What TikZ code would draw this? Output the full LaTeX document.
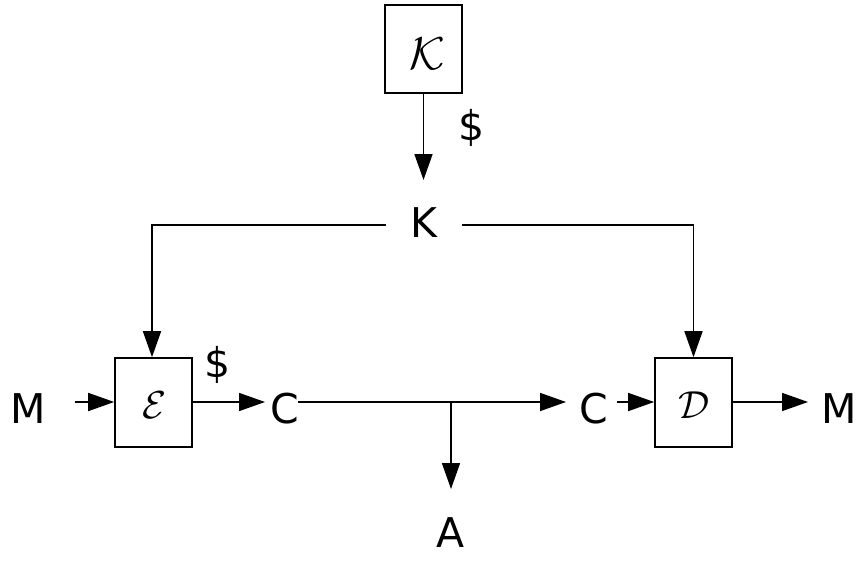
\documentclass[tikz,border=0pt]{standalone}
\usepackage{graphicx}
\usepackage{fontspec}
\setmainfont{DejaVu Sans}
\usetikzlibrary{arrows.meta}
\tikzset{
  blk/.style={draw, line width=1.6pt, minimum width=77pt, minimum height=89pt, inner sep=0pt},
  lbl/.style={inner sep=0pt, font=\fontsize{41}{41}\selectfont},
  conn/.style={line width=1.6pt},
  arr/.style={conn, -{Triangle[length=26pt,width=18pt]}},
}
\begin{document}
\begin{tikzpicture}[x=1pt,y=-1pt]
\useasboundingbox (0,0) rectangle (860,570);
% boxes
\node[blk, minimum height=88pt] (kbox) at (423.5,49) {};
\node[blk] (ebox) at (153.5,402.5) {};
\node[blk] (dbox) at (693.5,402.5) {};
\node[inner sep=0pt] (kcal) at (427,54) {\scalebox{4.6}{$\mathcal{K}$}};
\node[inner sep=0pt] (ecal) at (154.5,405) {\scalebox{3.9}{$\mathcal{E}$}};
\node[inner sep=0pt] (dcal) at (694.5,405) {\scalebox{3.9}{$\mathcal{D}$}};
% labels
\node[lbl] (klab) at (423.5,222.5) {K};
\node[lbl] (dollk) at (472,128) {\$};
\node[lbl] (dolle) at (218,365) {\$};
\node[lbl] (min) at (28.5,409) {M};
\node[lbl] (c1) at (285,409) {C};
\node[lbl] (c2) at (594,409) {C};
\node[lbl] (mout) at (839,409) {M};
\node[lbl] (alab) at (451,533) {A};
% helper coordinates
\coordinate (ktip) at (423.5,180);
\coordinate (kl) at (386,225);
\coordinate (kr) at (462,225);
\coordinate (kle) at (152,225);
\coordinate (kre) at (693.5,225);
\coordinate (ms) at (75,402);
\coordinate (c1tip) at (265,402);
\coordinate (c1s) at (298,402);
\coordinate (c2tip) at (566,402);
\coordinate (br) at (451,402);
\coordinate (atip) at (451,489);
\coordinate (c2s) at (617,402);
\coordinate (mtip) at (808,402);
% connectors
\draw[arr] (kbox.south) -- (ktip);
\draw[arr] (kl) -- (kle) -- (kle |- ebox.north);
\draw[arr] (kr) -- (kre) -- (dbox.north);
\draw[arr] (ms) -- (ms -| ebox.west);
\draw[arr] (ebox.east |- c1tip) -- (c1tip);
\draw[arr] (c1s) -- (c2tip);
\draw[arr] (br) -- (atip);
\draw[arr] (c2s) -- (c2s -| dbox.west);
\draw[arr] (dbox.east |- mtip) -- (mtip);
\end{tikzpicture}
\end{document}
